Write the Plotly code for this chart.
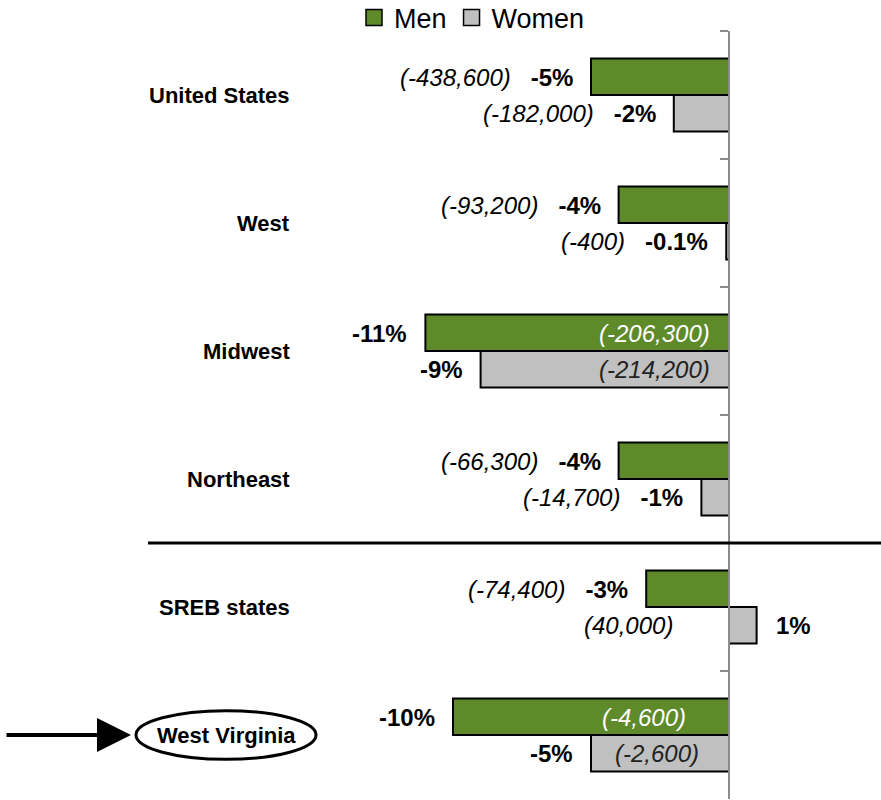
import plotly.graph_objects as go

# ---------------- data ----------------
categories = ["United States", "West", "Midwest", "Northeast", "SREB states", "West Virginia"]
men_pct = [-5, -4, -11, -4, -3, -10]
women_pct = [-2, -0.1, -9, -1, 1, -5]
men_pct_labels = ["-5%", "-4%", "-11%", "-4%", "-3%", "-10%"]
women_pct_labels = ["-2%", "-0.1%", "-9%", "-1%", "1%", "-5%"]
men_counts = ["(-438,600)", "(-93,200)", "(-206,300)", "(-66,300)", "(-74,400)", "(-4,600)"]
women_counts = ["(-182,000)", "(-400)", "(-214,200)", "(-14,700)", "(40,000)", "(-2,600)"]
series_names = ["Men", "Women"]

# ---------------- layout constants ----------------
W, H = 881, 800
TOP, BOTTOM = 31, 799          # plot area in pixels
LEFT_PX, ZERO_PX = 148, 729    # plot area left edge, zero line
PX_PER_UNIT = 27.6
XMIN = -(ZERO_PX - LEFT_PX) / PX_PER_UNIT
XMAX = (W - ZERO_PX) / PX_PER_UNIT

GREEN = "#5E8A2A"
GRAY = "#C0C0C0"
FONT = "Arial, Liberation Sans, sans-serif"
LBL_SIZE = 24
CAT_SIZE = 22

fig = go.Figure()
for name, vals, col in [(series_names[0], men_pct, GREEN), (series_names[1], women_pct, GRAY)]:
    fig.add_trace(go.Bar(
        name=name, y=categories, x=vals, orientation="h",
        marker=dict(color=col, line=dict(color="black", width=2)),
        hoverinfo="skip", showlegend=False))
# legend entries with larger square swatches
for name, col in [(series_names[0], GREEN), (series_names[1], GRAY)]:
    fig.add_trace(go.Scatter(
        name=name, x=[None], y=[None], mode="markers",
        marker=dict(symbol="square", size=16, color=col, line=dict(color="black", width=1.5)),
        hoverinfo="skip", showlegend=True))

NB = "\u00a0"
annotations = []
inside_shift = {("Men", "Midwest"): -17, ("Women", "Midwest"): -17,
                ("Men", "West Virginia"): -41, ("Women", "West Virginia"): -28}

for series, vals, pcts, counts, yshift, inside_color in [
        ("Men", men_pct, men_pct_labels, men_counts, 18, "white"),
        ("Women", women_pct, women_pct_labels, women_counts, -18, "#222222")]:
    for cat, v, p, c in zip(categories, vals, pcts, counts):
        base = dict(yref="y", y=cat, xref="x", showarrow=False, yshift=yshift,
                    font=dict(family=FONT, size=LBL_SIZE, color="black"))
        if v > 0:
            annotations.append({**base, "x": v, "xanchor": "left", "xshift": 17,
                                "text": f"<b>{p}</b>"})
            annotations.append({**base, "x": 0, "xanchor": "right", "xshift": -54,
                                "text": f"<i>{c}</i>"})
        elif (series, cat) in inside_shift:
            annotations.append({**base, "x": v, "xanchor": "right", "xshift": -16,
                                "text": f"<b>{p}</b>"})
            annotations.append({**base, "x": 0, "xanchor": "right",
                                "xshift": inside_shift[(series, cat)],
                                "text": f"<i>{c}</i>",
                                "font": dict(family=FONT, size=LBL_SIZE, color=inside_color)})
        else:
            annotations.append({**base, "x": v, "xanchor": "right", "xshift": -16,
                                "text": f"<i>{c}</i>{NB}{NB}{NB}<b>{p}</b>"})

# category labels
for cat in categories:
    if cat == "West Virginia":
        annotations.append(dict(xref="paper", x=226 / W, xanchor="center",
                                yref="y", y=cat, showarrow=False,
                                text=f"<b>{cat}</b>",
                                font=dict(family=FONT, size=CAT_SIZE, color="black")))
    else:
        annotations.append(dict(xref="paper", x=292 / W, xanchor="right",
                                yref="y", y=cat, showarrow=False,
                                text=f"<b>{cat}</b>",
                                font=dict(family=FONT, size=CAT_SIZE, color="black")))

# arrow pointing to West Virginia
annotations.append(dict(xref="paper", x=131 / W, yref="y", y="West Virginia",
                        text="", showarrow=True, ax=-126, ay=0, axref="pixel", ayref="pixel",
                        arrowhead=2, arrowsize=1.7, arrowwidth=4, arrowcolor="black",
                        standoff=0, startstandoff=0))

shapes = [
    # separator between regions and SREB
    dict(type="line", xref="paper", x0=LEFT_PX / W, x1=1, yref="y", y0=3.5, y1=3.5,
         line=dict(color="black", width=3), layer="above"),
    # ellipse around West Virginia
    dict(type="circle", xref="paper", x0=136 / W, x1=316 / W, yref="y", y0=4.81, y1=5.19,
         line=dict(color="black", width=3), fillcolor="rgba(0,0,0,0)", layer="above"),
]

fig.update_layout(
    width=W, height=H,
    margin=dict(l=0, r=0, t=TOP, b=H - BOTTOM, pad=0, autoexpand=False),
    paper_bgcolor="white", plot_bgcolor="white",
    barmode="group", bargap=0.43, bargroupgap=0,
    showlegend=True,
    legend=dict(orientation="h", x=354 / W, xanchor="left", y=(BOTTOM - 18) / (BOTTOM - TOP),
                yanchor="middle", font=dict(family=FONT, size=27, color="black"),
                itemwidth=30, traceorder="normal", bgcolor="rgba(0,0,0,0)",
                tracegroupgap=0),
    xaxis=dict(domain=[LEFT_PX / W, 1], range=[XMIN, XMAX], visible=False, fixedrange=True),
    yaxis=dict(autorange="reversed", anchor="free", position=ZERO_PX / W,
               showticklabels=False, showgrid=False, zeroline=False,
               showline=True, linecolor="#8C8C8C", linewidth=2,
               ticks="outside", tickson="boundaries", ticklen=8,
               tickcolor="#8C8C8C", tickwidth=2, fixedrange=True),
    annotations=annotations,
    shapes=shapes,
    font=dict(family=FONT),
)

fig.write_html("out.html", config={"displayModeBar": False},
               post_script="document.body.style.margin='0';document.body.style.overflow='hidden';")
